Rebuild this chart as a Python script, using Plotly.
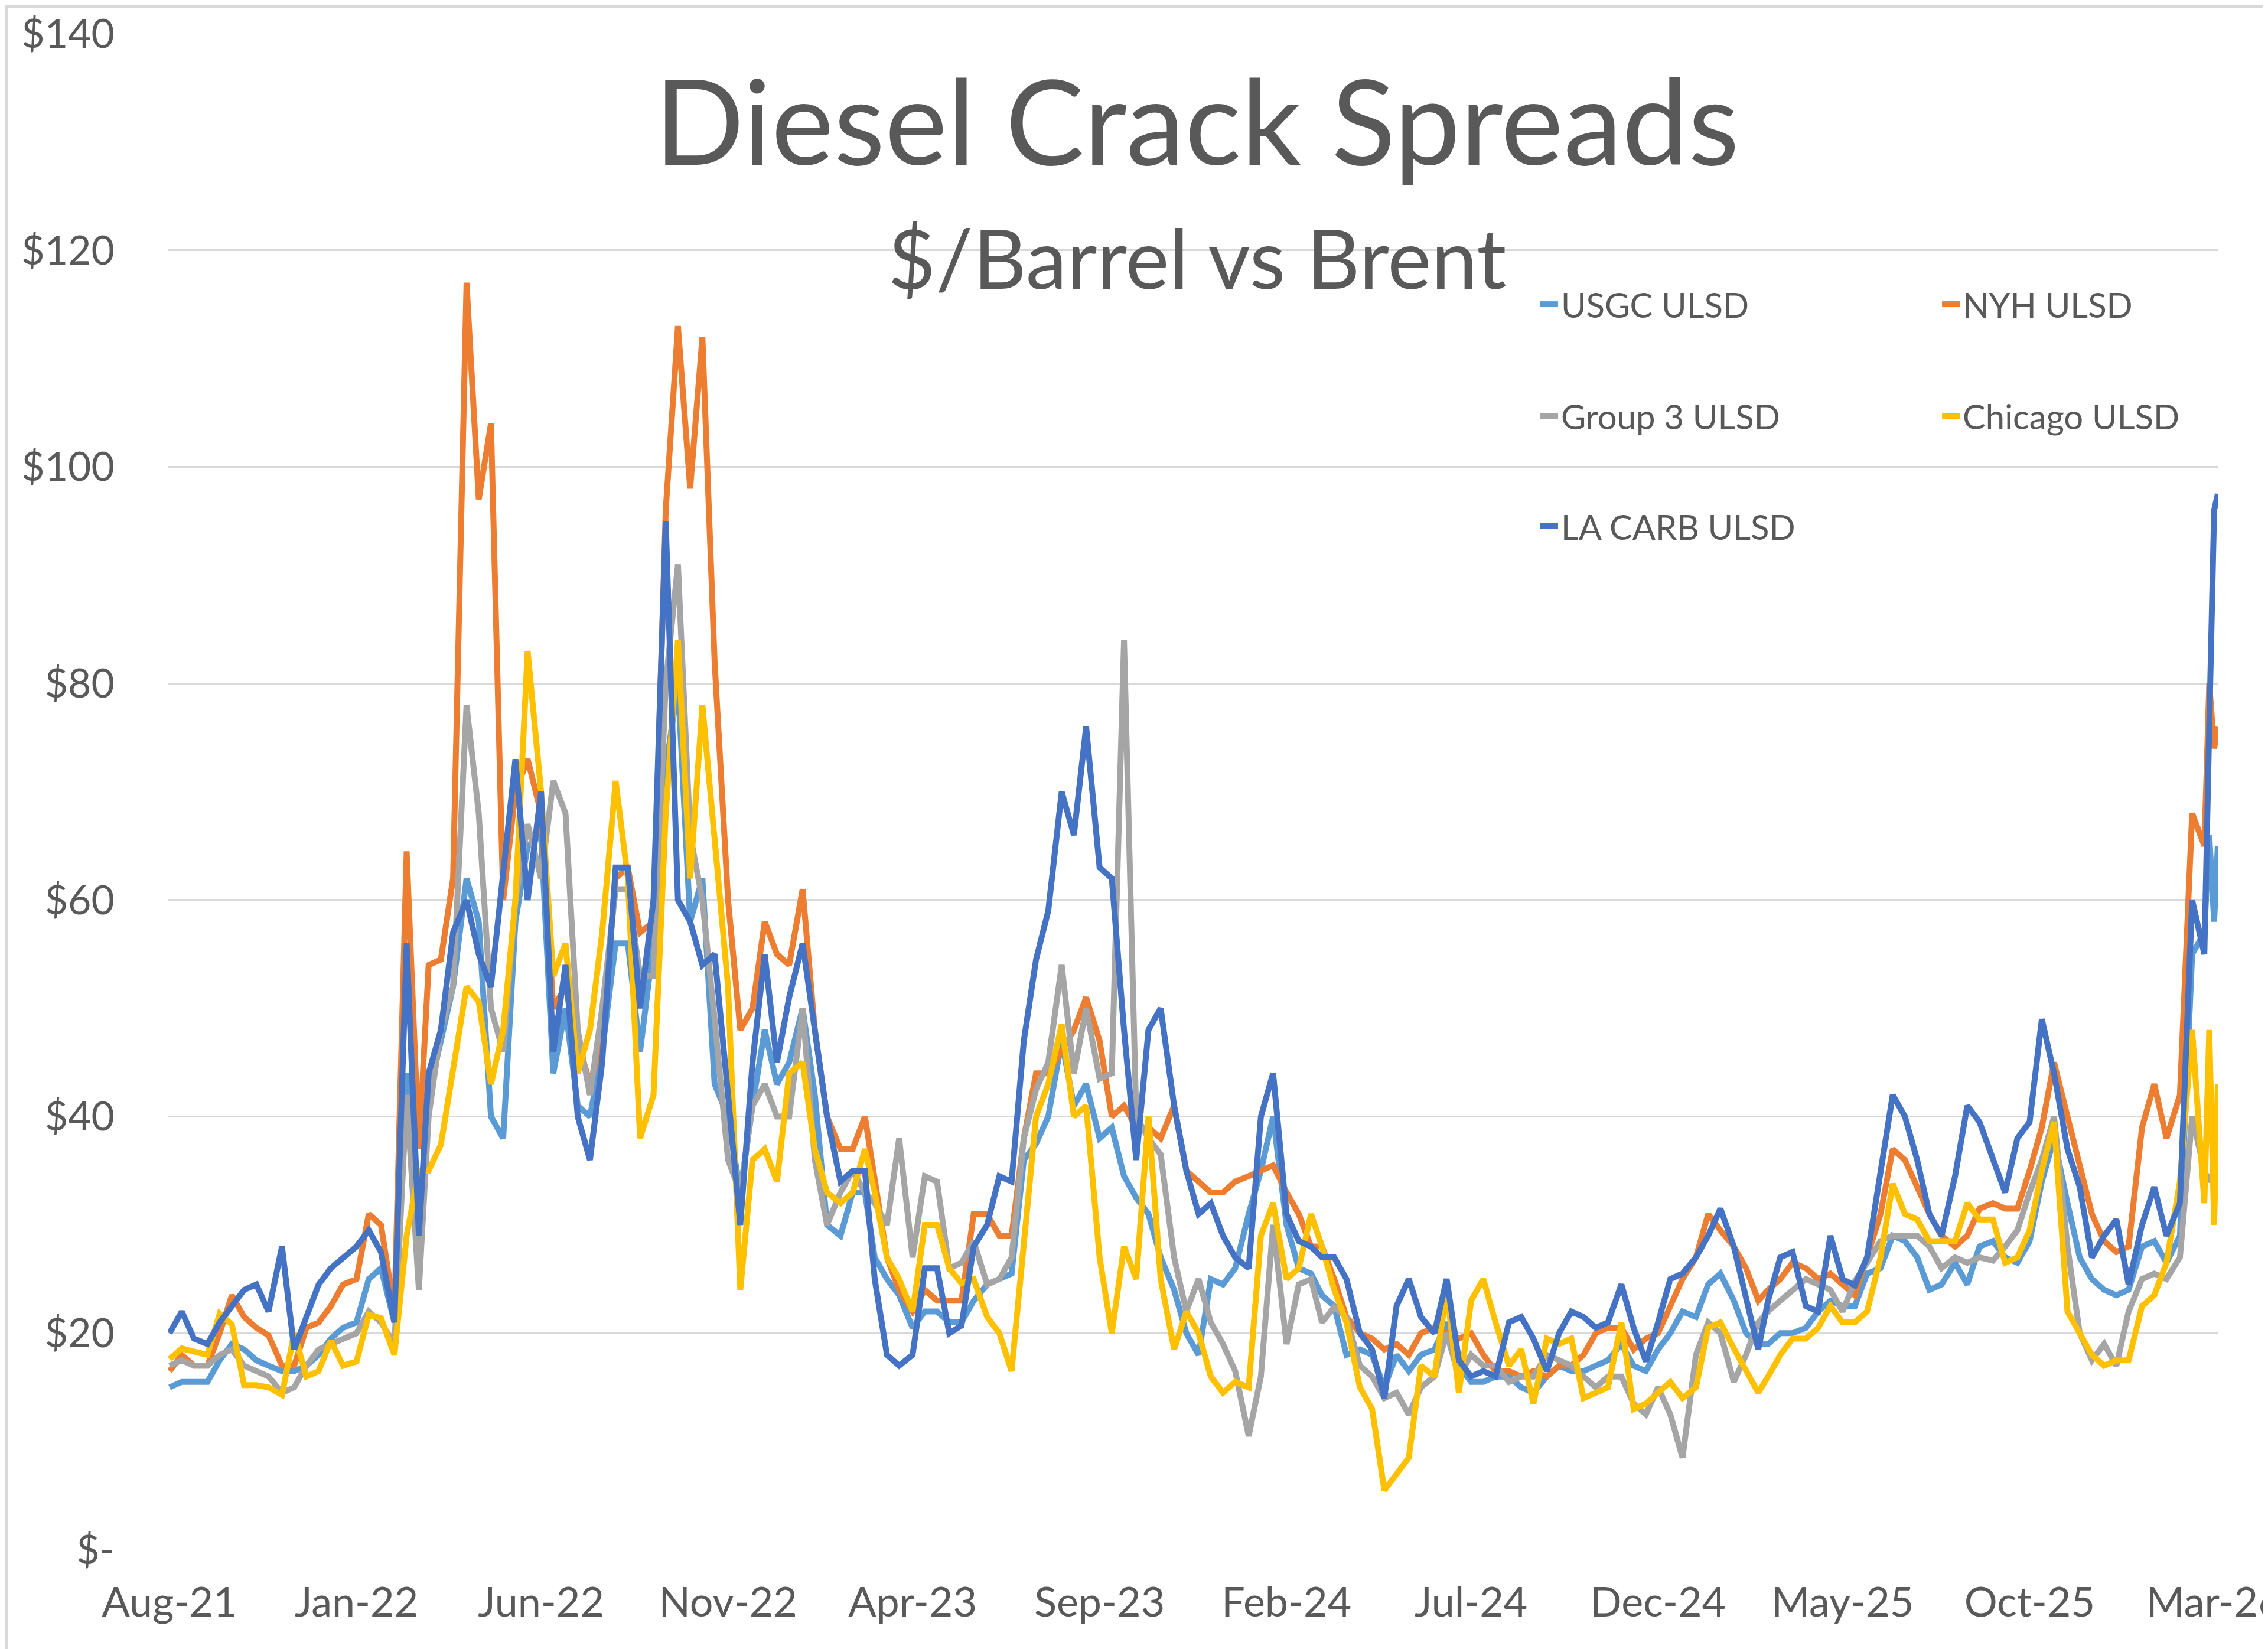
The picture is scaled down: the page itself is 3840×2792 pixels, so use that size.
import pandas as pd
import plotly.graph_objects as go

# sample dates: 1st, 11th and 21st of each month, plus the last few days
months = pd.period_range("2021-08", "2026-02", freq="M")
dates = [f"{p.year}-{p.month:02d}-{d:02d}" for p in months for d in (1, 11, 21)]
dates += ["2026-02-25", "2026-03-01", "2026-03-04"]

usgc = ([15, 15.5, 15.5, 15.5, 17.5, 19, 18.5, 17.5, 17, 16.5, 16.5, 17, 18, 19.5, 20.5]
        + [21, 25, 26, 21, 44, 28, 42, 47, 52, 62, 58, 40, 38, 58, 65, 66, 44, 50,
           41, 40, 46, 56, 56, 46, 56, 72, 80, 58, 62, 43, 40, 33, 41, 48, 43, 45]
        + [50, 42, 30, 29, 33, 33, 27, 25, 23.5, 20.5, 22, 22, 21, 21, 23, 24.5, 25, 25.5,
           36, 37.5, 40, 47, 41, 43, 38, 39, 34.5, 32.5, 31, 27, 24, 20, 18, 25, 24.5, 26]
        + [31, 35, 40, 30, 26, 25.5, 23.5, 22.5, 18, 18.5, 18, 15, 18, 16.5, 18, 18.5, 21, 17,
           15.5, 15.5, 16, 16, 15, 14.5, 16, 17, 16.5, 16.5, 17, 17.5, 19, 17, 16.5, 18.5, 20, 22]
        + [21.5, 24.5, 25.5, 23, 20, 19, 19, 20, 20, 20.5, 22, 23, 22.5, 22.5, 25.5, 26, 29, 28.5,
           27, 24, 24.5, 26.5, 24.5, 28, 28.5, 27, 26.5, 28.5, 34, 38, 32, 27, 25, 24, 23.5, 24]
        + [28, 28.5, 26.5, 29, 55, 57, 66, 58, 65])

nyh = ([16.5, 18, 17, 17, 20, 23.5, 21.5, 20.5, 19.8, 17, 17, 20.5, 21, 22.5, 24.5]
       + [25, 31, 30, 22, 64.5, 37, 54, 54.5, 62, 117, 97, 104, 60, 70, 73, 68, 50, 52,
          47, 43, 47, 62, 63, 57, 58, 96, 113, 98, 112, 82, 60, 48, 50, 58, 55, 54]
       + [61, 48, 40, 37, 37, 40, 34, 27, 24, 22, 24, 23, 23, 23, 31, 31, 29, 29,
          38, 44, 44, 46, 48, 51, 47, 40, 41, 39, 39, 38, 41, 35, 34, 33, 33, 34]
       + [34.5, 35, 35.5, 33, 31, 28, 28, 25, 21.5, 20, 19.5, 18.5, 19, 18, 20, 20.5, 20, 19.5,
          20, 18, 16.5, 16.5, 16, 16.5, 16, 17, 17, 18, 20, 20.5, 20.5, 18.5, 19.5, 20, 22.5, 25]
       + [27, 31, 29.5, 28, 26, 23, 24, 25, 26.5, 26, 25, 25.5, 24.5, 23.5, 27, 31, 37, 36,
          33.5, 31, 29, 28, 29, 31.5, 32, 31.5, 31.5, 35, 39, 45, 40, 35.5, 31, 28.5, 27.5, 28]
       + [39, 43, 38, 42, 68, 65, 80, 74, 76])

group3 = ([17, 17.5, 17, 17, 18, 18.5, 17, 16.5, 16, 14.5, 15, 17, 18.5, 19, 19.5]
          + [20, 22, 21, 19, 42, 24, 40, 48, 52, 78, 68, 50, 46, 60, 67, 62, 71, 68,
             48, 42, 50, 61, 61, 53, 53, 80, 91, 66, 60, 49, 36, 33, 41, 43, 40, 40]
          + [50, 36, 30, 33, 35, 33, 32, 30, 38, 27, 34.5, 34, 26, 26.5, 28.5, 24.5, 25, 27,
             38, 42.5, 45, 54, 44, 50, 43.5, 44, 84, 40, 38, 36.5, 27, 22, 25, 21, 19, 16.5]
          + [10.5, 16, 30, 19, 24.5, 25, 21, 22.4, 21.5, 17, 16, 14, 14.5, 12.5, 15, 16, 20, 16,
             18, 17, 17, 15.5, 16, 16, 18, 17.5, 17, 16, 15, 16, 16, 13.5, 12.5, 15, 12.5, 8.5]
          + [18, 21, 20, 15.5, 18, 21, 22, 23, 24, 25, 24.5, 24, 22, 24.8, 26.5, 28.5, 29, 29,
             29, 28, 26, 27, 26.5, 27, 26.7, 28, 29.5, 33, 36, 40, 28, 20, 17.5, 19, 17, 22]
          + [25, 25.5, 25, 27, 40, 35, 34, 35, 38])

chicago = ([17.6, 18.6, 18.3, 18, 21.8, 20.8, 15.2, 15.2, 15, 14.3, 20, 16, 16.5, 19.3, 17]
           + [17.4, 21.7, 21.4, 18, 29, 35, 35, 37.4, 44.4, 52, 50.6, 43, 48, 60, 83, 70, 53, 56,
              44, 48, 57, 71, 62, 38, 42, 68, 84, 62, 78, 65, 52, 24, 36, 37, 34, 44]
           + [45, 37, 33, 32, 33, 37, 33, 27, 25, 22, 30, 30, 26, 24.6, 25, 21.5, 20, 16.5,
              28, 40, 43, 48.5, 40, 41, 27, 20, 28, 25, 40, 25, 18.5, 22, 20, 16, 14.5, 15.5]
           + [15, 29, 32, 25, 26, 31, 28, 24, 21, 15, 13, 5.5, 7, 8.5, 17, 16, 24, 14.5,
              23, 25, 21, 17, 18.5, 13.5, 19.5, 19, 19.5, 14, 14.5, 15, 21, 13, 13.5, 14.5, 15.5, 14]
           + [15, 20.5, 21, 18.6, 16.5, 14.5, 16, 18, 19.5, 19.5, 20.5, 22.5, 21, 21, 22, 27, 33.8, 31,
              30.5, 28.5, 28.5, 28.5, 32, 30.5, 30.5, 26.5, 27, 29.5, 35, 39.5, 22, 20, 18, 17, 17.5, 17.5]
           + [22.5, 23.5, 26.5, 34, 48, 32, 48, 30, 43])

la_carb = ([20, 22, 19.5, 19, 21, 22.5, 24, 24.5, 22, 28, 18.5, 21.5, 24.5, 26, 27]
           + [28, 29.5, 27.5, 21, 56, 29, 44, 48, 57, 60, 55, 52, 62, 73, 60, 70, 46, 54,
              40, 36, 45, 63, 63, 50, 60, 95, 60, 58, 54, 55, 42, 30, 45, 55, 45, 51]
           + [56, 48, 40, 34, 35, 35, 25, 18, 17, 18, 26, 26, 20, 20.7, 28, 30, 34.5, 34,
              47, 54.5, 59, 70, 66, 76, 63, 62, 48, 36, 48, 50, 41, 35, 31, 32, 29, 27]
           + [26, 40, 44, 31, 28.5, 28, 27, 27, 25, 20, 18.5, 14, 22.5, 25, 21.5, 20, 25, 17.5,
              16, 16.5, 16, 21, 21.5, 19.5, 16.5, 20, 22, 21.5, 20.5, 21, 24.5, 20.5, 17.4, 21, 25, 25.5]
           + [27, 29, 31.5, 28, 23, 18.5, 23, 27, 27.5, 22.5, 22, 29, 25, 24.4, 27, 35, 42, 40,
              36, 31, 29, 34.5, 41, 39.5, 36, 33, 38, 39.5, 49, 44, 37, 33.5, 27, 29, 30.5, 24.5]
           + [30, 33.5, 29, 32, 60, 55, 76, 96, 97.5])

y_ticks = [0, 20, 40, 60, 80, 100, 120, 140]
y_labels = ["$-", "$20", "$40", "$60", "$80", "$100", "$120", "$140"]

# name, values, colour, legend slot (column x, row y in data units)
series = [("USGC ULSD", usgc, "#5B9BD5", 0.668, 115.0),
          ("NYH ULSD", nyh, "#ED7D31", 0.864, 115.0),
          ("Group 3 ULSD", group3, "#A5A5A5", 0.668, 104.7),
          ("Chicago ULSD", chicago, "#FFC000", 0.864, 104.7),
          ("LA CARB ULSD", la_carb, "#4472C4", 0.668, 94.5)]

for s in series:
    assert len(s[1]) == len(dates), (s[0], len(s[1]), len(dates))

FONT = "Lato"
GREY = "#595959"

fig = go.Figure()
legends = {}
for i, (name, vals, color, lx, ly) in enumerate(series):
    key = "legend" if i == 0 else f"legend{i + 1}"
    fig.add_trace(go.Scatter(x=pd.to_datetime(dates), y=vals, name=name, mode="lines",
                             line=dict(color=color, width=10), legend=key, showlegend=True))
    legends[key] = dict(x=lx, y=ly / 140, xanchor="left", yanchor="middle",
                        bgcolor="rgba(0,0,0,0)", visible=True,
                        font=dict(family=FONT, size=58, color=GREY))

fig.update_layout(
    width=3840, height=2792,
    showlegend=True,
    margin=dict(l=277, r=93, t=49, b=176, autoexpand=False),
    paper_bgcolor="white", plot_bgcolor="white",
    font=dict(family=FONT, color=GREY),
    xaxis=dict(type="date", range=["2021-07-31", "2026-03-04"],
               tick0="2021-08-01", dtick="M5", tickformat="%b-%y",
               showgrid=False, zeroline=False, showline=False, ticks="",
               ticklabelstandoff=42, ticklabeloverflow="allow",
               tickfont=dict(family=FONT, size=70, color=GREY)),
    yaxis=dict(range=[0, 140], tickvals=y_ticks, ticktext=y_labels,
               showgrid=True, gridcolor="#D9D9D9", gridwidth=3,
               zeroline=False, showline=False, ticks="",
               ticklabelstandoff=90,
               tickfont=dict(family=FONT, size=68, color=GREY)),
    **legends,
)

fig.add_annotation(text="Diesel Crack Spreads", xref="paper", yref="y", x=0.502, y=132.1,
                   showarrow=False, yanchor="middle",
                   font=dict(family=FONT, size=200, color=GREY))
fig.add_annotation(text="$/Barrel vs Brent", xref="paper", yref="y", x=0.502, y=119.4,
                   showarrow=False, yanchor="middle",
                   font=dict(family=FONT, size=140, color=GREY))

# chart area border
fig.add_shape(type="rect", xref="paper", yref="paper",
              x0=-0.0790, x1=1.0262, y0=-0.0678, y1=1.0180,
              line=dict(color="#D9D9D9", width=6), layer="below")

fig.write_html("out.html")
